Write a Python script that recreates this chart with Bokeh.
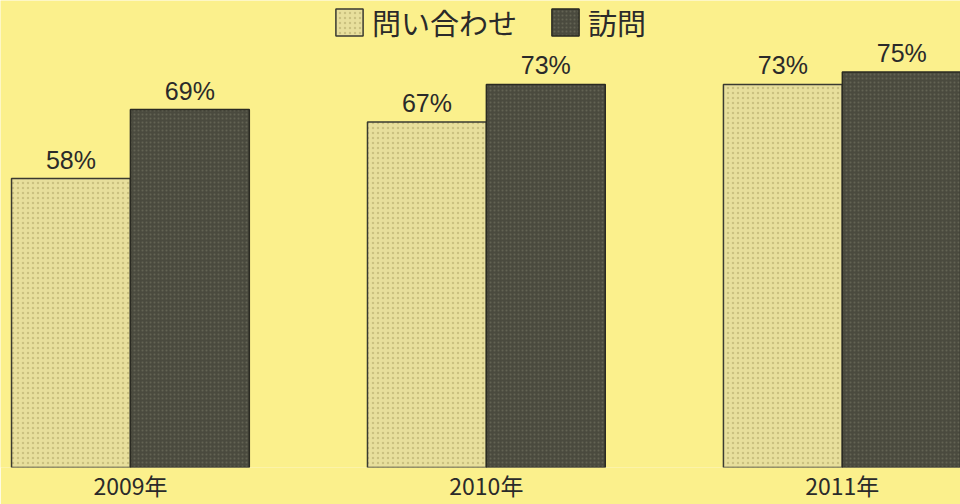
from bokeh.plotting import figure
from bokeh.models import ColumnDataSource, Range1d, FixedTicker, Legend, LegendItem, LabelSet
from bokeh.transform import dodge
from bokeh.core.properties import value
from bokeh.embed import file_html
from bokeh.resources import INLINE

years = ["2009年", "2010年", "2011年"]
series_names = ["問い合わせ", "訪問"]
inquiry = [58, 67, 73]
visit = [69, 73, 75]

BG = "#fbf08c"
LIGHT = "#e8df9c"
DARK = "#4a4a3e"
TXT = "#2a2a2a"
FONT = "Noto Sans CJK JP"
NUMFONT = "Liberation Sans"

xs = list(range(len(years)))
src = ColumnDataSource(dict(
    x=xs, inquiry=inquiry, visit=visit,
    inq_lbl=[f"{v}%" for v in inquiry],
    vis_lbl=[f"{v}%" for v in visit],
))

base = 11.9
p = figure(width=960, height=504, output_backend="svg", toolbar_location=None,
           x_range=Range1d(-0.365, 2.332), y_range=Range1d(base, 86.4),
           min_border_left=0, min_border_right=0, min_border_top=0, min_border_bottom=30,
           background_fill_color=BG, border_fill_color=BG, outline_line_color=None)
p.grid.visible = False
p.yaxis.visible = False

bw = 0.334
r1 = p.vbar(x=dodge("x", -bw / 2, range=p.x_range), top="inquiry", bottom=base, width=bw, source=src,
            fill_color=LIGHT, line_color="#3a3a30", line_width=1.5,
            hatch_pattern="dot", hatch_color="#b5ab6c", hatch_scale=5, hatch_alpha=0.6)
r2 = p.vbar(x=dodge("x", bw / 2, range=p.x_range), top="visit", bottom=base, width=bw, source=src,
            fill_color=DARK, line_color="#2a2a22", line_width=1.5,
            hatch_pattern="dot", hatch_color="#6e6e5c", hatch_scale=4, hatch_alpha=0.7)

for col, lbl, off in [("inquiry", "inq_lbl", -bw / 2), ("visit", "vis_lbl", bw / 2)]:
    p.add_layout(LabelSet(x=dodge("x", off, range=p.x_range), y=col, text=lbl, source=src,
                          y_offset=5, text_align="center", text_baseline="bottom",
                          text_font=value(NUMFONT), text_font_size="25px", text_color=TXT))

ax = p.xaxis[0]
ax.ticker = FixedTicker(ticks=xs)
ax.major_label_overrides = {i: y for i, y in enumerate(years)}
ax.axis_line_color = None
ax.major_tick_line_color = None
ax.minor_tick_line_color = None
ax.major_tick_out = 0
ax.major_tick_in = 0
ax.minor_tick_out = 0
ax.minor_tick_in = 0
ax.major_label_standoff = 0
ax.major_label_text_font = FONT
ax.major_label_text_font_size = "23px"
ax.major_label_text_line_height = 1.0
ax.major_label_text_color = TXT

legend = Legend(items=[LegendItem(label=series_names[0], renderers=[r1]),
                       LegendItem(label=series_names[1], renderers=[r2])],
                orientation="horizontal", location=(332, 424),
                background_fill_alpha=0, border_line_color=None,
                padding=2, margin=0, spacing=31, label_standoff=6,
                glyph_width=34, glyph_height=34,
                label_text_font=FONT, label_text_font_size="29px", label_text_color=TXT)
p.add_layout(legend)

open("out.html", "w").write(file_html(p, INLINE))
